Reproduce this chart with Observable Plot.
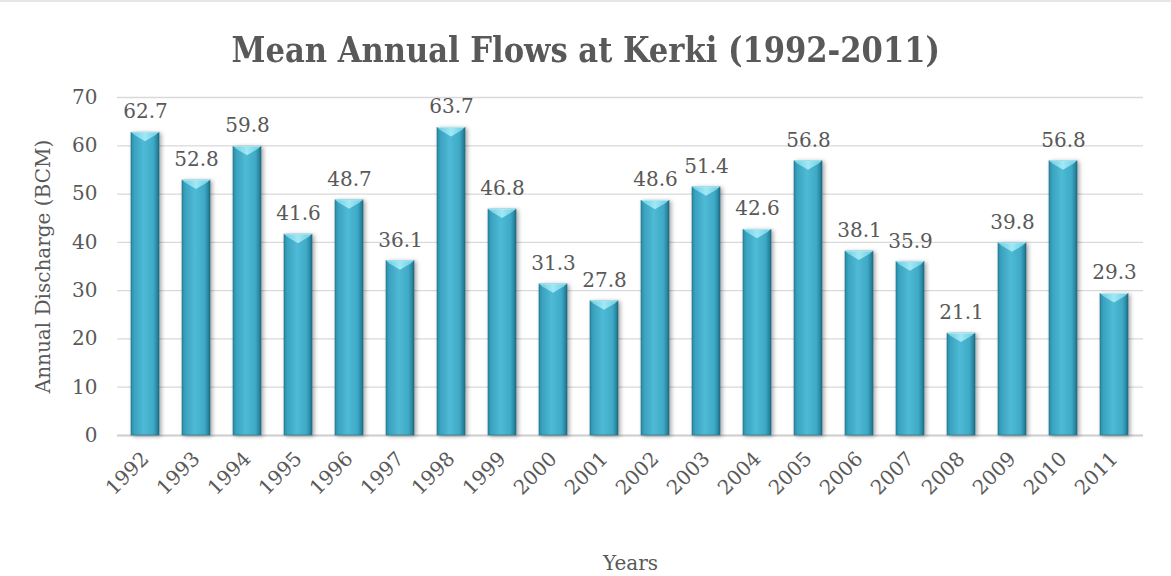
<!DOCTYPE html>
<html>
<head>
<meta charset="utf-8">
<script src="https://cdn.jsdelivr.net/npm/d3@7"></script>
<script src="https://cdn.jsdelivr.net/npm/@observablehq/plot@0.6"></script>
<style>
  html, body { margin: 0; padding: 0; background: #fff; }
  #wrap { width: 1171px; height: 576px; position: relative; overflow: hidden; }
  #title { position: absolute; left: 0; top: 0; width: 1171px; height: 80px; line-height: 98px; text-align: center;
    font-family: "DejaVu Serif", serif; font-weight: bold; font-size: 36px; color: #595959; font-stretch: condensed; }
  #title span { display: inline-block; transform: scaleX(0.945); }
  #chart { position: absolute; left: 0; top: 80px; }
  .topline { position: absolute; left: 0; top: 0; width: 1171px; height: 2px; background: #e6e6e6; }
</style>
</head>
<body>
<div id="wrap">
  <div class="topline"></div>
  <div id="title"><span>Mean Annual Flows at Kerki (1992-2011)</span></div>
  <div id="chart"></div>
</div>
<script>
const years = ["1992","1993","1994","1995","1996","1997","1998","1999","2000","2001","2002","2003","2004","2005","2006","2007","2008","2009","2010","2011"];
const discharge = [62.7,52.8,59.8,41.6,48.7,36.1,63.7,46.8,31.3,27.8,48.6,51.4,42.6,56.8,38.1,35.9,21.1,39.8,56.8,29.3];
const yTicks = [0,10,20,30,40,50,60,70];

const data = years.map((y, i) => ({year: y, value: discharge[i]}));

const textColor = "#595959";
const font = "DejaVu Serif";

// bevel cap drawn through Plot's scales
function bevel(index, scales, values, dimensions, context) {
  const g = d3.create("svg:g");
  const bw = scales.x.bandwidth();
  for (const d of data) {
    const x0 = scales.x(d.year), x1 = x0 + bw, cx = x0 + bw / 2;
    const yt = scales.y(d.value);
    g.append("path")
      .attr("d", `M${x0 + 0.5},${yt}L${x1 - 0.5},${yt}L${x1 - 3},${yt + 2.5}L${cx},${yt + 9}L${x0 + 3},${yt + 2.5}Z`)
      .attr("fill", "url(#capGrad)");
    g.append("path")
      .attr("d", `M${x0 + 0.5},${yt}L${x1 - 0.5},${yt}`)
      .attr("stroke", "#b4eef8").attr("stroke-width", 1);
  }
  return g.node();
}

const plot = Plot.plot({
  width: 1171,
  height: 496,
  marginLeft: 117,
  marginRight: 28,
  marginTop: 17,
  marginBottom: 141,
  style: {fontFamily: font, fontSize: "20px", color: textColor, background: "transparent"},
  x: {domain: years, paddingInner: 0.45, paddingOuter: 0.21, label: null},
  y: {domain: [0, 70], label: null},
  marks: [
    Plot.gridY(yTicks, {stroke: "#d9d9d9", strokeOpacity: 1, strokeWidth: 1.3}),
    Plot.ruleY([0], {stroke: "#d0d0d0", strokeWidth: 2}),
    Plot.barY(data, {x: "year", y: "value", fill: "url(#barGrad)", stroke: "#1d6f86", strokeWidth: 0.6, className: "bars"}),
    bevel,
    Plot.text(data, {x: "year", y: "value", text: d => d.value.toFixed(1), dy: -21, fill: textColor, fontSize: 20}),
    Plot.axisY(yTicks, {tickSize: 0, tickPadding: 20, fontSize: 20, fill: textColor,
      label: "Annual Discharge (BCM)", labelAnchor: "center", labelArrow: "none", labelOffset: 82}),
    Plot.axisX({tickSize: 0, tickRotate: -45, tickPadding: 20, fontSize: 20, fill: textColor,
      label: "Years", labelAnchor: "center", labelArrow: "none", labelOffset: 134})
  ]
});

// gradients
const svg = d3.select(plot);
const defs = svg.insert("defs", ":first-child");
const g = defs.append("linearGradient").attr("id", "barGrad").attr("x1", "0").attr("x2", "1").attr("y1", "0").attr("y2", "0");
[["0%","#2b8aa5"],["12%","#3aa3bf"],["45%","#4fbad5"],["80%","#3eaac6"],["92%","#2c8ba6"],["100%","#1e6b80"]]
  .forEach(([o,c]) => g.append("stop").attr("offset", o).attr("stop-color", c));
const cg = defs.append("linearGradient").attr("id", "capGrad").attr("x1", "0").attr("x2", "1").attr("y1", "0").attr("y2", "0");
[["0%","#6ccbe0"],["50%","#a0e8f5"],["100%","#6ccbe0"]]
  .forEach(([o,c]) => cg.append("stop").attr("offset", o).attr("stop-color", c));
svg.selectAll(".bars rect").style("filter", "drop-shadow(2px 1px 2px rgba(0,0,0,0.35))");

document.getElementById("chart").appendChild(plot);
</script>
</body>
</html>
